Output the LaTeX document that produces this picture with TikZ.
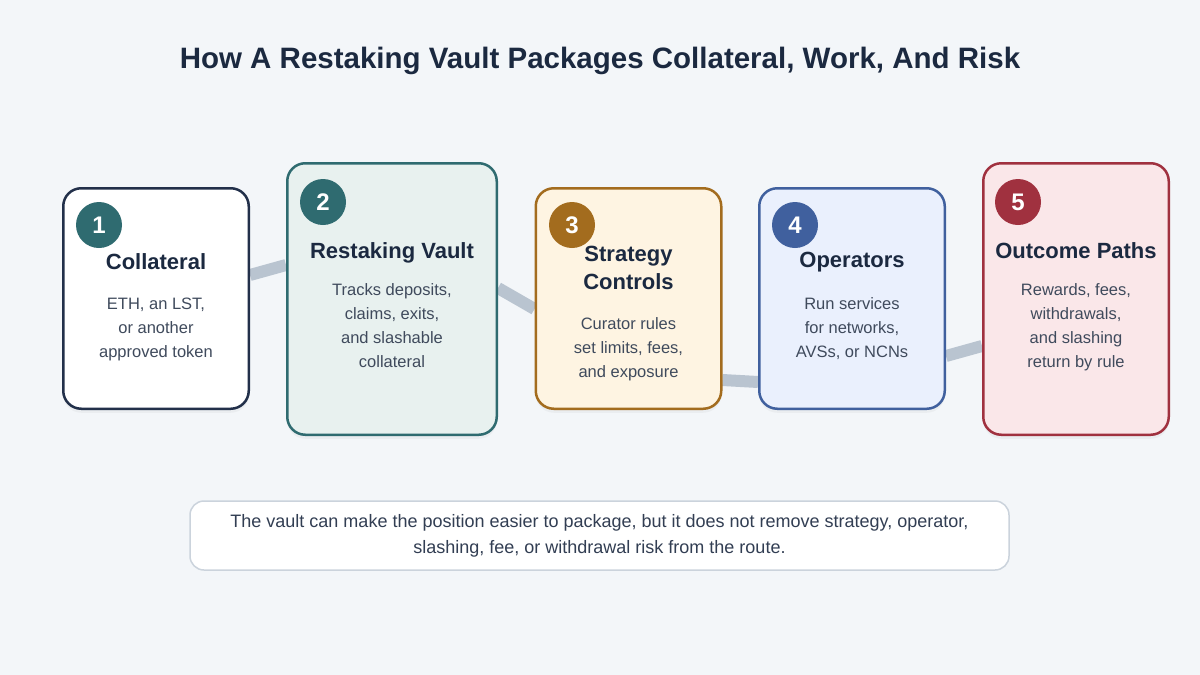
\documentclass[tikz,border=0pt]{standalone}
\usepackage{fontspec}
\setmainfont{Liberation Sans}
\usetikzlibrary{backgrounds,shadows}

\definecolor{pagebg}{HTML}{F3F6F9}
\definecolor{ink}{HTML}{1B2940}
\definecolor{slate}{HTML}{3F4A5C}
\definecolor{navyc}{HTML}{22304A}
\definecolor{tealc}{HTML}{2F6B70}
\definecolor{tealf}{HTML}{E8F1EF}
\definecolor{brownc}{HTML}{A36C1E}
\definecolor{brownf}{HTML}{FEF4E2}
\definecolor{bluec}{HTML}{40609E}
\definecolor{bluef}{HTML}{EAF0FD}
\definecolor{redc}{HTML}{A0313F}
\definecolor{redf}{HTML}{FAE7E9}
\definecolor{linkc}{HTML}{B9C4D0}
\definecolor{notec}{HTML}{CBD3DC}

\begin{document}
\begin{tikzpicture}[
    x=1pt, y=-1pt,
    every node/.style={font=\fontsize{16.5}{24}\selectfont},
    card/.style={
        rectangle,
        rounded corners=18pt,
        line width=2.5pt,
        minimum width=185.5pt,
        minimum height=220.5pt,
        drop shadow={opacity=0.07, shadow xshift=0pt, shadow yshift=-4pt}
    },
    tallcard/.style={
        card,
        minimum width=185.5pt,
        minimum height=271.5pt
    },
    badge/.style={
        circle,
        minimum size=46pt,
        inner sep=0pt,
        text=white,
        font=\fontsize{24}{24}\selectfont\bfseries
    },
    ttl/.style={
        anchor=north,
        inner sep=0pt,
        align=center,
        text=ink,
        font=\fontsize{22}{28}\selectfont\bfseries
    },
    body/.style={
        anchor=north,
        inner sep=0pt,
        align=center,
        text=slate,
        font=\fontsize{16.5}{24}\selectfont
    },
    note/.style={
        rectangle,
        rounded corners=14pt,
        draw=notec,
        line width=1.5pt,
        fill=white,
        minimum width=819pt,
        minimum height=69pt,
        align=center,
        text=ink!90,
        font=\fontsize{18}{26}\selectfont
    },
    link/.style={line width=12pt, draw=linkc}
]

\useasboundingbox (0,0) rectangle (1200,675);
\begin{scope}[on background layer]
  \fill[pagebg] (0,0) rectangle (1200,675);
\end{scope}

% ==================== Title ====================
\node[anchor=base, text=ink, font=\fontsize{29.5}{32}\selectfont\bfseries] (title) at (600,68)
  {How A Restaking Vault Packages Collateral, Work, And Risk};

% ==================== Cards ====================
\node[card, draw=navyc, fill=white]       (coll)  at (156,298.5) {};
\node[tallcard, draw=tealc, fill=tealf, minimum width=209.5pt] (vault) at (392,299) {};
\node[card, draw=brownc, fill=brownf]     (strat) at (628.5,298.5) {};
\node[card, draw=bluec, fill=bluef]       (ops)   at (852,298.5) {};
\node[tallcard, draw=redc, fill=redf]     (outc)  at (1076,299) {};

% number badges
\node[badge, fill=tealc]  (b1) at (99,225)   {1};
\node[badge, fill=tealc]  (b2) at (323,202)  {2};
\node[badge, fill=brownc] (b3) at (572,225)  {3};
\node[badge, fill=bluec]  (b4) at (795,225)  {4};
\node[badge, fill=redc]   (b5) at (1018,202) {5};

% card texts
\node[ttl]  (collT)  at (156,253)   {Collateral};
\node[body] (collB)  at (156,298)   {ETH, an LST,\\or another\\approved token};

\node[ttl]  (vaultT) at (392,242)   {Restaking Vault};
\node[body] (vaultB) at (392,283)   {Tracks deposits,\\claims, exits,\\and slashable\\collateral};

\node[ttl]  (stratT) at (628.5,246) {Strategy\\Controls};
\node[body] (stratB) at (628.5,317) {Curator rules\\set limits, fees,\\and exposure};

\node[ttl]  (opsT)   at (852,252)   {Operators};
\node[body] (opsB)   at (852,297)   {Run services\\for networks,\\AVSs, or NCNs};

\node[ttl]  (outcT)  at (1076,242)  {Outcome Paths};
\node[body] (outcB)  at (1076,283)  {Rewards, fees,\\withdrawals,\\and slashing\\return by rule};

% links run behind the cards
\begin{scope}[on background layer]
  \draw[link] ([yshift=23.5pt]coll.east)  -- ([yshift=34pt]vault.west);
  \draw[link] ([yshift=11pt]vault.east)   -- ([yshift=-10.5pt]strat.west);
  \draw[link] ([yshift=-81.5pt]strat.east) -- ([yshift=-83.5pt]ops.west);
  \draw[link] ([yshift=-57.5pt]ops.east)  -- ([yshift=-47pt]outc.west);
\end{scope}

% ==================== Bottom note ====================
\node[note] (note) at (599.5,535.5)
  {The vault can make the position easier to package, but it does not remove strategy, operator,\\
   slashing, fee, or withdrawal risk from the route.};

\end{tikzpicture}
\end{document}
